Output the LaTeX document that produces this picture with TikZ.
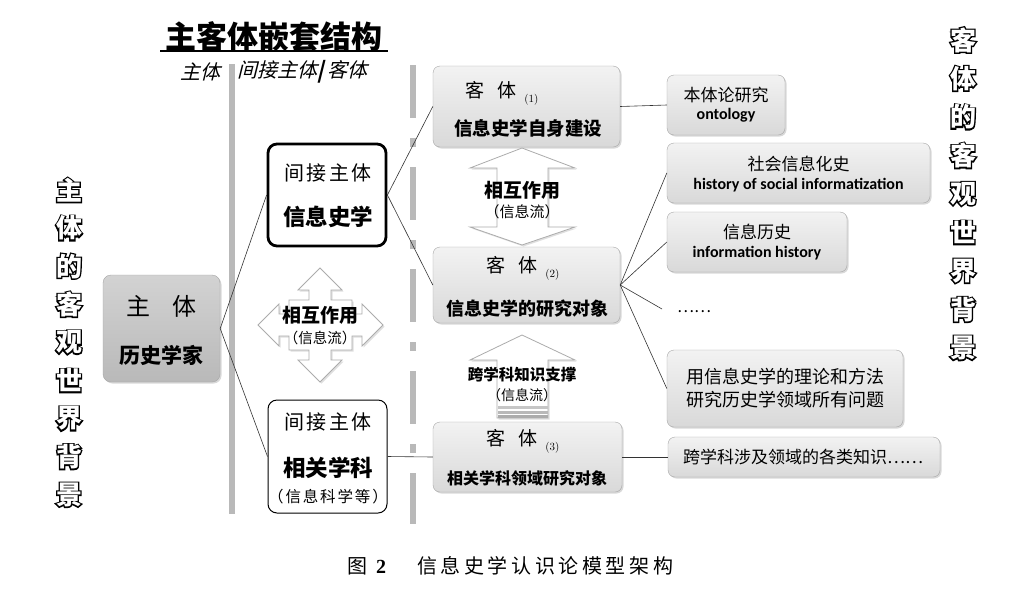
\documentclass[tikz,border=0pt]{standalone}
\usepackage{fontspec}
\usetikzlibrary{shadows}
\newfontfamily\cjk{Noto Sans CJK SC}
\newfontfamily\cjkfat[FakeBold=10, BoldFeatures={FakeBold=10}]{Noto Sans CJK SC}
\newfontfamily\cjkls[LetterSpace=12]{Noto Sans CJK SC}
\newfontfamily\cjkit[FakeSlant=0.25]{Noto Sans CJK SC}
\newfontfamily\capfont[LetterSpace=18]{Noto Sans CJK SC}
\newfontfamily\engfont{Carlito}
\newcommand\fs[1]{\fontsize{#1}{#1}\selectfont}
\newcommand\hollow[1]{\leavevmode\rlap{\cjkfat\bfseries #1}\textcolor{white}{\cjk\bfseries #1}}
\begin{document}
\begin{tikzpicture}[x=1pt,y=-1pt,
  gbox/.style={draw=gray!70, rounded corners=7pt, top color=gray!10, bottom color=gray!30,
    drop shadow={opacity=0.3, shadow xshift=1.5pt, shadow yshift=-1.5pt}, inner sep=0pt},
  mainbox/.style={draw=gray!70, rounded corners=8pt, top color=gray!35, bottom color=gray!55,
    drop shadow={opacity=0.3, shadow xshift=1.5pt, shadow yshift=-1.5pt}, inner sep=0pt},
  wbox/.style={draw=black, fill=white, rounded corners=9pt, inner sep=0pt},
  txt/.style={inner sep=0pt, font=\cjk},
  conn/.style={draw=black!80, line width=0.6pt},
  arrowshape/.style={draw=gray!65, fill=white, line width=0.8pt,
    drop shadow={opacity=0.25, shadow xshift=1.5pt, shadow yshift=-1.5pt}},
  vbar/.style={draw=gray!55, line width=6pt}
]
\fill[white] (0,0) rectangle (1016,603);
\useasboundingbox (0,0) rectangle (1016,603);

% title
\node[txt, font=\cjk\bfseries\fs{31}] (title) at (274,37) {主客体嵌套结构};
\draw[line width=1.6pt] (160,51) -- (388,51);
\node[txt, font=\cjkit\fs{20}] (sub1) at (200,72) {主体};
\node[txt, font=\cjkit\fs{20}, anchor=west] (sub2) at (237,72) {间接主体\textbf{|} 客体};

% vertical bars
\draw[vbar] (232,64) -- (232,514);
\draw[vbar, dash pattern=on 53pt off 20pt on 9pt off 20pt] (413,65) -- (413,524);

% side vertical texts
\foreach \c [count=\i from 0] in {主,体,的,客,观,世,界,背,景}
  \node[txt, font=\fs{26}] (lv\i) at (69,190+38.1*\i) {\hollow{\c}};
\foreach \c [count=\i from 0] in {客,体,的,客,观,世,界,背,景}
  \node[txt, font=\fs{26}] (rv\i) at (963,40+38.5*\i) {\hollow{\c}};

% subject box
\node[mainbox, minimum width=117pt, minimum height=107pt] (zt) at (161.5,328.5) {};
\node[txt, font=\cjk\fs{24}] (zt1) at (161.5,306) {主\hspace{0.9em}体};
\node[txt, font=\cjk\bfseries\fs{21}] (zt2) at (161.5,355) {历史学家};

% indirect subject boxes
\node[wbox, line width=2.8pt, minimum width=118pt, minimum height=102pt] (xx) at (327,195) {};
\node[txt, font=\cjkls\fs{20}] (xx1) at (328,173) {间接主体};
\node[txt, font=\cjk\bfseries\fs{22.5}] (xx2) at (328,217) {信息史学};

\node[wbox, line width=1pt, minimum width=119pt, minimum height=113pt] (xg) at (327.5,456.5) {};
\node[txt, font=\cjkls\fs{20}] (xg1) at (328,422) {间接主体};
\node[txt, font=\cjk\bfseries\fs{22.5}] (xg2) at (328,468) {相关学科};
\node[txt, font=\cjkls\fs{15.5}] (xg3) at (328,497) {（信息科学等）};

% four-way arrow
\path[arrowshape] (320,268) -- (342,290) -- (331,290) -- (331,300) -- (352,300) -- (352,314)
  -- (362,314) -- (362,304) -- (383,325) -- (362,346) -- (362,336) -- (352,336) -- (352,350)
  -- (331,350) -- (331,360) -- (342,360) -- (320,382) -- (298,360) -- (309,360) -- (309,350)
  -- (289,350) -- (289,336) -- (279,336) -- (279,346) -- (258,325) -- (279,304) -- (279,314)
  -- (289,314) -- (289,300) -- (309,300) -- (309,290) -- (298,290) -- cycle;
\node[txt, font=\cjk\bfseries\fs{19}] (fa1) at (320,315) {相互作用};
\node[txt, font=\cjk\fs{14.5}] (fa2) at (320,338) {（信息流）};

% object boxes
\node[gbox, minimum width=187pt, minimum height=81pt] (k1) at (526.5,106.5) {};
\node[txt, font=\cjk\fs{19}] (k1a) at (502,93) {客\hspace{0.7em}体\hspace{0.4em}\raisebox{-0.5ex}{\fontspec{Latin Modern Roman}\fs{11}(1)}};
\node[txt, font=\cjk\bfseries\fs{18.5}] (k1b) at (528,128) {信息史学自身建设};

\node[gbox, minimum width=187pt, minimum height=76pt] (k2) at (526.5,285) {};
\node[txt, font=\cjk\fs{19}] (k2a) at (523,268) {客\hspace{0.7em}体\hspace{0.4em}\raisebox{-0.5ex}{\fontspec{Latin Modern Roman}\fs{11}(2)}};
\node[txt, font=\cjk\bfseries\fs{18}] (k2b) at (527,309) {信息史学的研究对象};

\node[gbox, minimum width=189pt, minimum height=70pt] (k3) at (527.5,457) {};
\node[txt, font=\cjk\fs{19}] (k3a) at (523,441) {客\hspace{0.7em}体\hspace{0.4em}\raisebox{-0.5ex}{\fontspec{Latin Modern Roman}\fs{11}(3)}};
\node[txt, font=\cjk\bfseries\fs{16}] (k3b) at (527,478) {相关学科领域研究对象};

% double arrow between k1 and k2
\path[arrowshape] (522,148) -- (575,168) -- (548,168) -- (548,227) -- (575,227) -- (522,245)
  -- (470,227) -- (497,227) -- (497,168) -- (470,168) -- cycle;
\node[txt, font=\cjk\bfseries\fs{19}] (da1) at (522,190) {相互作用};
\node[txt, font=\cjk\fs{15}] (da2) at (522,212) {（信息流）};

% up arrow
\path[arrowshape] (522,335) -- (575,360) -- (548,360) -- (548,418) -- (497,418) -- (497,360)
  -- (470,360) -- cycle;
\fill[gray!45] (497.5,406) rectangle (547.5,409);
\fill[gray!55] (497.5,410.5) rectangle (547.5,413.5);
\fill[gray!65] (497.5,415) rectangle (547.5,418);
\node[txt, font=\cjk\bfseries\fs{15.5}] (ua1) at (522,375) {跨学科知识支撑};
\node[txt, font=\cjk\fs{14}] (ua2) at (522,395) {（信息流）};

% right boxes
\node[gbox, minimum width=118pt, minimum height=60pt] (s0) at (726,105) {};
\node[txt, font=\cjk\fs{17}] (s0a) at (726,95) {本体论研究};
\node[txt, font=\engfont\bfseries\fs{16}] (s0b) at (726,115) {ontology};

\node[gbox, minimum width=263pt, minimum height=60pt] (s1) at (798.5,173) {};
\node[txt, font=\cjk\fs{17}] (s1a) at (798.5,164) {社会信息化史};
\node[txt, font=\engfont\bfseries\fs{16}] (s1b) at (798.5,185) {history of social informatization};

\node[gbox, minimum width=180pt, minimum height=60pt] (s2) at (757,242) {};
\node[txt, font=\cjk\fs{17}] (s2a) at (757,232) {信息历史};
\node[txt, font=\engfont\bfseries\fs{16}] (s2b) at (757,253) {information history};

\node[txt, font=\cjk\fs{16}] (dots) at (694,312) {……};
\coordinate (dotsc) at (662,309);

\node[gbox, minimum width=236pt, minimum height=77pt] (s4) at (785,388.5) {};
\node[txt, font=\cjk\fs{18}] (s4a) at (785,377) {用信息史学的理论和方法};
\node[txt, font=\cjk\fs{18}] (s4b) at (785,400) {研究历史学领域所有问题};

\node[gbox, minimum width=272pt, minimum height=40pt] (s5) at (804,457) {};
\node[txt, font=\cjk\fs{17}] (s5a) at (803,457) {跨学科涉及领域的各类知识……};

% connectors
\draw[conn] (zt.east) -- (xx.west);
\draw[conn] (zt.east) -- (xg.west);
\draw[conn] (xx.east) -- (k1.west);
\draw[conn] (xx.east) -- (k2.west);
\draw[conn] (xg.east) -- (k3.west);
\draw[conn] (k1.east) -- (s0.west);
\draw[conn] (k2.east) -- (s1.west);
\draw[conn] (k2.east) -- (s2.west);
\draw[conn] (k2.east) -- (dotsc);
\draw[conn] (k2.east) -- (s4.west);
\draw[conn] (k3.east) -- (s5.west);

% caption
\node[txt, font=\cjk\fs{20}, anchor=west] (cap1) at (347,566) {图\hspace{0.45em}{\fontspec{Liberation Serif}\bfseries 2}};
\node[txt, font=\capfont\fs{20}, anchor=west] (cap2) at (417,566) {信息史学认识论模型架构};
\end{tikzpicture}
\end{document}
